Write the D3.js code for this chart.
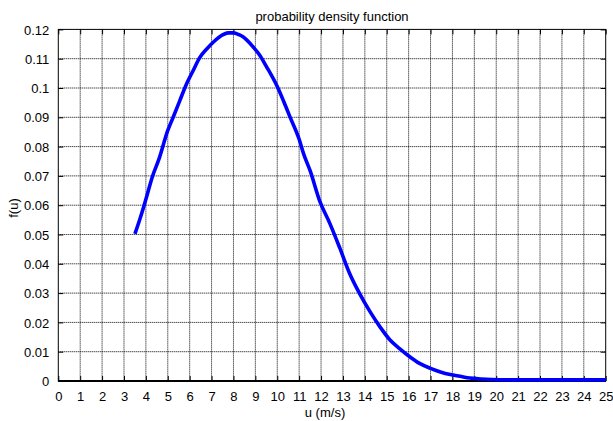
<!DOCTYPE html>
<html>
<head>
<meta charset="utf-8">
<script src="https://cdn.jsdelivr.net/npm/d3@7"></script>
<style>
  html, body { margin: 0; padding: 0; background: #fff; }
  svg { display: block; }
  text { font-family: "Liberation Sans", Arial, Helvetica, sans-serif; font-size: 13px; fill: #000; }
</style>
</head>
<body>
<svg id="chart" width="613" height="421"></svg>
<script>
// ---- data ----
const title = "probability density function";
const xLabel = "u (m/s)";
const yLabel = "f(u)";
const xTicks = d3.range(0, 26, 1);
const yTicks = [0, 0.01, 0.02, 0.03, 0.04, 0.05, 0.06, 0.07, 0.08, 0.09, 0.1, 0.11, 0.12];
const yTickLabels = ["0", "0.01", "0.02", "0.03", "0.04", "0.05", "0.06", "0.07", "0.08", "0.09", "0.1", "0.11", "0.12"];
const speed = [3.5, 3.8, 4.0, 4.3, 4.6, 5.0, 5.25, 5.55, 5.85, 6.15, 6.45, 6.8, 7.1, 7.5, 7.75, 8.0, 8.25, 8.45,
  8.9, 9.2, 9.5, 10.0, 10.3, 10.6, 11.0, 11.2, 11.5, 11.95, 12.4, 12.85, 13.3, 13.75, 14.25, 14.7, 15.15,
  15.6, 16.05, 16.5, 17.0, 17.45, 17.9, 18.35, 18.8, 19.3, 19.8, 20.5, 21, 22, 23, 24, 25];
const density = [0.0502, 0.0570, 0.0620, 0.0698, 0.0758, 0.0855, 0.0901, 0.0957, 0.1013, 0.1058, 0.1103, 0.1135,
  0.1158, 0.1181, 0.1188, 0.1188, 0.1182, 0.1174, 0.1140, 0.1112, 0.1074, 0.1005, 0.0953, 0.0898, 0.0825,
  0.0776, 0.0718, 0.0612, 0.0538, 0.0455, 0.0368, 0.0300, 0.0235, 0.0184, 0.0140, 0.0110, 0.0083, 0.0060,
  0.0043, 0.0031, 0.0022, 0.0016, 0.0010, 0.0007, 0.0005, 0.0004, 0.0004, 0.0004, 0.0004, 0.0004, 0.0004];

// ---- layout ----
const svg = d3.select("#chart");
const L = 58.3, R = 605.7, T = 29.4, B = 381;
const x = d3.scaleLinear().domain([0, 25]).range([L, R]);
const y = d3.scaleLinear().domain([0, 0.12]).range([B, T]);
const tickLen = 5;

// grid
const grid = svg.append("g").attr("stroke", "#000").attr("stroke-width", 1)
  .attr("stroke-dasharray", "1,1").attr("fill", "none");
grid.selectAll("line.gx").data(xTicks.slice(1, -1)).join("line")
  .attr("x1", d => x(d)).attr("x2", d => x(d)).attr("y1", T).attr("y2", B);
grid.selectAll("line.gy").data(yTicks.slice(1, -1)).join("line")
  .attr("class", "gy")
  .attr("y1", d => y(d)).attr("y2", d => y(d)).attr("x1", L).attr("x2", R);

// axes using d3 axis generators (inward ticks)
const xb = svg.append("g").attr("transform", `translate(0,${B})`)
  .call(d3.axisBottom(x).tickValues(xTicks).tickFormat(d3.format("d")).tickSizeInner(-tickLen).tickSizeOuter(0).tickPadding(11));
const xt = svg.append("g").attr("transform", `translate(0,${T})`)
  .call(d3.axisTop(x).tickValues(xTicks).tickFormat("").tickSizeInner(-tickLen).tickSizeOuter(0));
const yl = svg.append("g").attr("transform", `translate(${L},0)`)
  .call(d3.axisLeft(y).tickValues(yTicks).tickFormat((d, i) => yTickLabels[i]).tickSizeInner(-tickLen).tickSizeOuter(0).tickPadding(9));
const yr = svg.append("g").attr("transform", `translate(${R},0)`)
  .call(d3.axisRight(y).tickValues(yTicks).tickFormat("").tickSizeInner(-tickLen).tickSizeOuter(0));

[xb, xt, yl, yr].forEach(g => {
  g.select(".domain").remove();
  g.selectAll(".tick line").attr("stroke", "#000").attr("stroke-width", 1);
  g.selectAll("text").attr("font-family", null).attr("font-size", null).attr("fill", "#000");
});
xb.selectAll(".tick text").attr("dy", "0.71em");
yl.selectAll(".tick text").attr("dy", "0.36em");

// box
svg.append("rect").attr("x", L).attr("y", T).attr("width", R - L).attr("height", B - T)
  .attr("fill", "none").attr("stroke", "#000").attr("stroke-width", 1);
svg.append("line").attr("x1", L).attr("x2", R).attr("y1", B).attr("y2", B)
  .attr("stroke", "#000").attr("stroke-width", 2);

// curve
const line = d3.line().x((d, i) => x(speed[i])).y(d => y(d)).curve(d3.curveMonotoneX);
svg.append("path").datum(density).attr("d", line)
  .attr("fill", "none").attr("stroke", "#0000ff").attr("stroke-width", 3.6)
  .attr("stroke-linejoin", "round").attr("stroke-linecap", "butt");

// titles
svg.append("text").attr("x", (L + R) / 2).attr("y", 21).attr("text-anchor", "middle").text(title);
svg.append("text").attr("x", 325).attr("y", 416.5).attr("text-anchor", "middle").text(xLabel);
svg.append("text").attr("transform", "translate(17.5,208) rotate(-90)").attr("text-anchor", "middle").text(yLabel);
</script>
</body>
</html>
